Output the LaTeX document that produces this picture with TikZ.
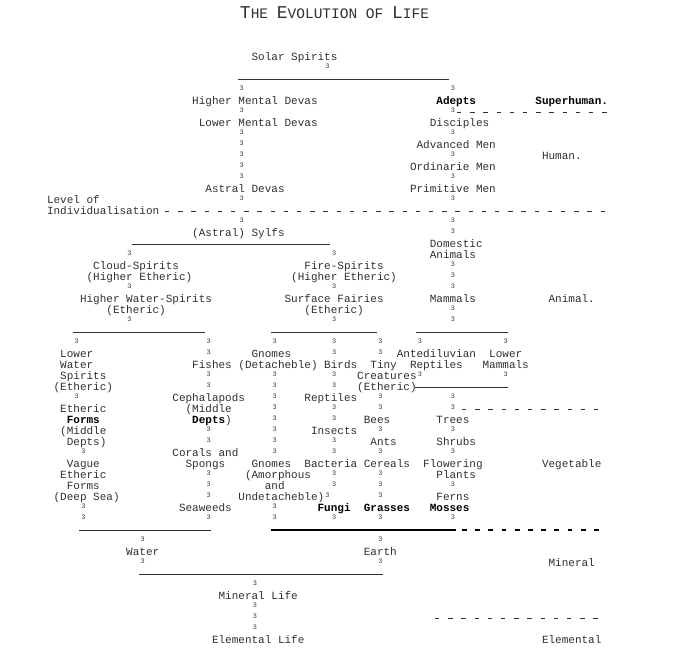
\documentclass[tikz,border=0pt]{standalone}
\usepackage{fontspec}
\newfontfamily\cour{Liberation Mono}
\definecolor{ink}{HTML}{303030}
\definecolor{conn}{HTML}{505050}
\tikzset{
  lbl/.style={anchor=base west, inner sep=0pt, outer sep=0pt, font=\cour\fontsize{11}{11}\selectfont, text=ink},
  blbl/.style={lbl, font=\cour\bfseries\fontsize{11}{11}\selectfont, text=black},
  cn/.style={anchor=base, inner sep=0pt, outer sep=0pt, font=\cour\fontsize{11}{11}\selectfont, text=conn},
  hline/.style={draw=ink, line width=0.6pt},
  heavyline/.style={draw=black, line width=1.4pt},
  dline/.style={draw=ink, line width=0.7pt, dash pattern=on 4.4pt off 8.8pt},
  bdline/.style={draw=black, line width=1.3pt, dash pattern=on 4.8pt off 8.4pt},
}
% text node on the character grid: [style]{name}{column}{row}{text}
\newcommand\T[5][lbl]{\node[#1] (#2) at (#3,#4+0.3) {#5};}
% connector glyph on the grid
\newcommand\V[2]{\node[cn] (v#1x#2) at (#1+0.5,#2+0.3) {³};}
% horizontal rule in pixel units: [style]{name}{x1}{x2}{y}
\newcommand\HL[5][hline]{\coordinate (#2a) at (#3pt,-#5pt); \coordinate (#2b) at (#4pt,-#5pt); \draw[#1] (#2a) -- (#2b);}
\newcommand\BigC[1]{{\fontsize{18}{18}\selectfont #1}}
\begin{document}
\begin{tikzpicture}
\fill[white] (0pt,0pt) rectangle (680pt,-662pt);
\useasboundingbox (0pt,0pt) rectangle (680pt,-662pt);

\node[anchor=base, inner sep=0pt, font=\cour\fontsize{14.5}{14.5}\selectfont, text=ink] (title) at (334.5pt,-18.5pt)
  {\BigC{T}HE \BigC{E}VOLUTION OF \BigC{L}IFE};

\begin{scope}[shift={(47pt,-57pt)}, x=6.6pt, y=-11pt]
% row 0 - 16
\T{solar}{31}{0}{Solar Spirits}
\V{42}{1}
\V{29}{3} \V{61}{3}
\T{hmd}{22}{4}{Higher Mental Devas}
\T[blbl]{adepts}{59}{4}{Adepts}
\T[blbl]{superhuman}{74}{4}{Superhuman.}
\V{29}{5} \V{61}{5}
\T{lmd}{23}{6}{Lower Mental Devas}
\T{disc}{58}{6}{Disciples}
\V{29}{7} \V{61}{7}
\V{29}{8}
\T{adv}{56}{8}{Advanced Men}
\V{29}{9} \V{61}{9}
\T{human}{75}{9}{Human.}
\V{29}{10}
\T{ord}{55}{10}{Ordinarie Men}
\V{29}{11} \V{61}{11}
\T{astral}{24}{12}{Astral Devas}
\T{prim}{55}{12}{Primitive Men}
\T{levelof}{0}{13}{Level of}
\V{29}{13} \V{61}{13}
\T{indiv}{0}{14}{Individualisation}
\V{29}{15} \V{61}{15}
\T{sylfs}{22}{16}{(Astral) Sylfs}
\V{61}{16}
% row 17 - 24
\T{domestic}{58}{17}{Domestic}
\V{12}{18} \V{43}{18}
\T{animals}{58}{18}{Animals}
\T{cloud}{7}{19}{Cloud-Spirits}
\T{fire}{39}{19}{Fire-Spirits}
\V{61}{19}
\T{cloudh}{6}{20}{(Higher Etheric)}
\T{fireh}{37}{20}{(Higher Etheric)}
\V{61}{20}
\V{12}{21} \V{43}{21} \V{61}{21}
\T{hws}{5}{22}{Higher Water-Spirits}
\T{surf}{36}{22}{Surface Fairies}
\T{mammals}{58}{22}{Mammals}
\T{animal}{76}{22}{Animal.}
\T{hwse}{9}{23}{(Etheric)}
\T{surfe}{39}{23}{(Etheric)}
\V{61}{23}
\V{12}{24} \V{43}{24} \V{61}{24}
% row 26 - 42
\V{4}{26} \V{24}{26} \V{34}{26} \V{43}{26} \V{50}{26} \V{56}{26} \V{69}{26}
\T{lws}{2}{27}{Lower}
\V{24}{27}
\T{gnomes}{31}{27}{Gnomes}
\V{43}{27} \V{50}{27}
\T{ante}{53}{27}{Antediluvian}
\T{lowerm}{67}{27}{Lower}
\T{lws2}{2}{28}{Water}
\T{fishes}{22}{28}{Fishes}
\T{gnomesd}{29}{28}{(Detacheble)}
\T{birds}{42}{28}{Birds}
\T{tiny}{49}{28}{Tiny}
\T{anter}{55}{28}{Reptiles}
\T{lowerm2}{66}{28}{Mammals}
\T{lws3}{2}{29}{Spirits}
\V{24}{29} \V{34}{29} \V{43}{29}
\T{tiny2}{47}{29}{Creatures}
\V{56}{29} \V{69}{29}
\T{lws4}{1}{30}{(Etheric)}
\V{24}{30} \V{34}{30} \V{43}{30}
\T{tiny3}{47}{30}{(Etheric)}
\V{4}{31}
\T{ceph}{19}{31}{Cephalapods}
\V{34}{31}
\T{reptiles}{39}{31}{Reptiles}
\V{50}{31} \V{61}{31}
\T{ef}{2}{32}{Etheric}
\T{ceph2}{21}{32}{(Middle}
\V{34}{32} \V{43}{32} \V{50}{32} \V{61}{32}
\T[blbl]{ef2}{3}{33}{Forms}
\T{ceph3}{22}{33}{{\bfseries\color{black}Depts})}
\V{34}{33} \V{43}{33}
\T{bees}{48}{33}{Bees}
\T{trees}{59}{33}{Trees}
\T{ef3}{2}{34}{(Middle}
\V{24}{34} \V{34}{34}
\T{insects}{40}{34}{Insects}
\V{50}{34} \V{61}{34}
\T{ef4}{3}{35}{Depts)}
\V{24}{35} \V{34}{35} \V{43}{35}
\T{ants}{49}{35}{Ants}
\T{shrubs}{59}{35}{Shrubs}
\V{5}{36}
\T{corals}{19}{36}{Corals and}
\V{34}{36} \V{43}{36} \V{50}{36} \V{61}{36}
\T{vague}{3}{37}{Vague}
\T{corals2}{21}{37}{Spongs}
\T{gnomesa}{31}{37}{Gnomes}
\T{bact}{39}{37}{Bacteria}
\T{cereals}{48}{37}{Cereals}
\T{flow}{57}{37}{Flowering}
\T{veg}{75}{37}{Vegetable}
\T{vague2}{2}{38}{Etheric}
\V{24}{38}
\T{gnomesa2}{30}{38}{(Amorphous}
\V{43}{38} \V{50}{38}
\T{flow2}{59}{38}{Plants}
\T{vague3}{3}{39}{Forms}
\V{24}{39}
\T{gnomesa3}{33}{39}{and}
\V{43}{39} \V{50}{39} \V{61}{39}
\T{vague4}{1}{40}{(Deep Sea)}
\V{24}{40}
\T{gnomesa4}{29}{40}{Undetacheble)}
\V{42}{40} \V{50}{40}
\T{ferns}{59}{40}{Ferns}
\V{5}{41}
\T{seaweeds}{20}{41}{Seaweeds}
\V{34}{41}
\T[blbl]{fungi}{41}{41}{Fungi}
\T[blbl]{grasses}{48}{41}{Grasses}
\T[blbl]{mosses}{58}{41}{Mosses}
\V{5}{42} \V{24}{42} \V{34}{42} \V{43}{42} \V{50}{42} \V{61}{42}
% row 44 - 53
\V{14}{44} \V{50}{44}
\T{water}{12}{45}{Water}
\T{earth}{48}{45}{Earth}
\V{14}{46} \V{50}{46}
\T{mineral}{76}{46}{Mineral}
\V{31}{48}
\T{minlife}{26}{49}{Mineral Life}
\V{31}{50}
\V{31}{51}
\V{31}{52}
\T{elife}{25}{53}{Elemental Life}
\T{elemental}{75}{53}{Elemental}
\end{scope}

% horizontal rules (pixel units)
\HL{h1}{238}{449}{79}
\HL[dline]{d1}{457}{608}{112}
\HL[dline]{d2}{165}{607}{211}
\HL{h2}{132}{330}{244}
\HL{h3}{73}{205}{332}
\HL{h4}{271}{377}{332}
\HL{h5}{416}{508}{332}
\HL{h6}{415}{508}{387}
\HL[dline]{d3}{462}{600}{409}
\HL{h7}{79}{211}{530}
\HL[heavyline]{h8}{271}{456}{530}
\HL[bdline]{d4}{462}{600}{530}
\HL{h9}{139}{383}{574}
\HL[dline]{d5}{435}{600}{618}
\end{tikzpicture}
\end{document}
